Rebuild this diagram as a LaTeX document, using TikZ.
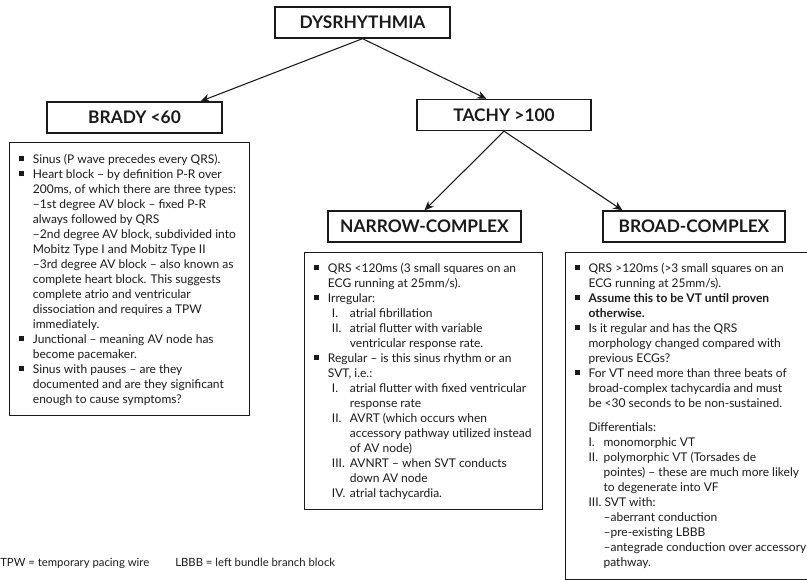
\documentclass[tikz,border=0pt]{standalone}
\usepackage{fontspec}
\setmainfont{Lato}
\usetikzlibrary{arrows.meta,calc}

\definecolor{ink}{HTML}{1A1A1A}

% horizontal offsets inside a text box, measured from its left border
\newlength\BulX \newlength\BulW \newlength\TxtX \newlength\RomX \newlength\RomW \newlength\RomT
\newsavebox\numbox
\newcommand\sqbullet{\rule[1.6pt]{4.3pt}{4.3pt}}
\newcommand\lstrut{\rule{0pt}{8pt}}
% numeral column: fixed width, widened when the numeral needs more room
\newcommand\numcol[1]{\sbox\numbox{#1\ }%
  \ifdim\wd\numbox<\RomW\makebox[\RomW][l]{#1}\else\usebox\numbox\fi}
% bullet line, continuation line, numbered line, numbered continuation
\newcommand\BL[1]{\par\noindent\lstrut\hspace*{\BulX}\makebox[\BulW][l]{\sqbullet}\mbox{#1}}
\newcommand\TL[1]{\par\noindent\lstrut\hspace*{\TxtX}\mbox{#1}}
\newcommand\RL[2]{\par\noindent\lstrut\hspace*{\RomX}\numcol{#1}\mbox{#2}}
\newcommand\RC[1]{\par\noindent\lstrut\hspace*{\RomT}\mbox{#1}}
\newcommand\margins[4]{%
  \setlength\BulX{6.75pt}\setlength\TxtX{#4}%
  \setlength\BulW{\TxtX}\addtolength\BulW{-\BulX}%
  \setlength\RomX{\TxtX}\addtolength\RomX{#1}%
  \setlength\RomW{#2}%
  \setlength\RomT{\RomX}\addtolength\RomT{\RomW}%
  \vspace*{#3}}

\tikzset{
  head/.style={draw=ink, line width=1pt, inner sep=0pt, minimum height=23.25pt,
    font=\fontsize{13}{15}\selectfont\bfseries, text=ink},
  txtbox/.style={draw=ink, line width=0.9pt, inner sep=0pt, anchor=north west,
    font=\fontsize{9}{11.25}\selectfont, text=ink},
  arr/.style={draw=ink, line width=0.8pt, -{Stealth[length=7pt,width=6pt]}},
  foot/.style={font=\fontsize{8.5}{10}\selectfont, text=ink, inner sep=0pt, anchor=base west}
}

\begin{document}
\begin{tikzpicture}[x=0.75pt,y=-0.75pt]
\useasboundingbox (0,0) rectangle (807,580);
\clip (0,0) rectangle (807,580);

% headings
\node[head, minimum width=131.25pt] (dys)    at (362.5,22.5) {DYSRHYTHMIA};
\node[head, minimum width=131.25pt] (brady)  at (134.5,117.5) {BRADY <60};
\node[head, minimum width=130.5pt]  (tachy)  at (504,115) {TACHY >100};
\node[head, minimum width=144.75pt] (narrow) at (424.5,226.5) {NARROW-COMPLEX};
\node[head, minimum width=136.5pt]  (broad)  at (694,226.5) {BROAD-COMPLEX};

% connectors
\draw[arr] (dys.south) -- ($(brady.north west)!0.874!(brady.north east)$);
\draw[arr] (dys.south) -- ($(tachy.north west)!0.40!(tachy.north east)$);
\draw[arr] (tachy.south) -- (narrow.north);
\draw[arr] (tachy.south) -- ($(broad.north west)!0.11!(broad.north east)$);

% bradycardia notes
\node[txtbox] (bradytxt) at (9,142) {\parbox[t][204.75pt][t]{180pt}{%
  \margins{0pt}{0pt}{7.75pt}{17.5pt}%
  \BL{Sinus (P wave precedes every QRS).}
  \BL{Heart block -- by definition P-R over}
  \TL{200ms, of which there are three types:}
  \TL{--1st degree AV block -- fixed P-R}
  \TL{always followed by QRS}
  \TL{--2nd degree AV block, subdivided into}
  \TL{Mobitz Type I and Mobitz Type II}
  \TL{--3rd degree AV block -- also known as}
  \TL{complete heart block. This suggests}
  \TL{complete atrio and ventricular}
  \TL{dissociation and requires a TPW}
  \TL{immediately.}
  \BL{Junctional -- meaning AV node has}
  \TL{become pacemaker.}
  \BL{Sinus with pauses -- are they}
  \TL{documented and are they significant}
  \TL{enough to cause symptoms?}\par}};

% narrow-complex notes
\node[txtbox] (narrowtxt) at (304,252) {\parbox[t][192.75pt][t]{178.5pt}{%
  \margins{3pt}{13.5pt}{7pt}{17.5pt}%
  \BL{QRS <120ms (3 small squares on an}
  \TL{ECG running at 25mm/s).}
  \BL{Irregular:}
  \RL{I.}{atrial fibrillation}
  \RL{II.}{atrial flutter with variable}
  \RC{ventricular response rate.}
  \BL{Regular -- is this sinus rhythm or an}
  \TL{SVT, i.e.:}
  \RL{I.}{atrial flutter with fixed ventricular}
  \RC{response rate}
  \RL{II.}{AVRT (which occurs when}
  \RC{accessory pathway utilized instead}
  \RC{of AV node)}
  \RL{III.}{AVNRT -- when SVT conducts}
  \RC{down AV node}
  \RL{IV.}{atrial tachycardia.}\par}};

% broad-complex notes
\node[txtbox] (broadtxt) at (565,252) {\parbox[t][245.25pt][t]{198.75pt}{%
  \margins{0pt}{11.25pt}{7pt}{17.25pt}%
  \BL{QRS >120ms (>3 small squares on an}
  \TL{ECG running at 25mm/s).}
  \BL{\bfseries Assume this to be VT until proven}
  \TL{\bfseries otherwise.}
  \BL{Is it regular and has the QRS}
  \TL{morphology changed compared with}
  \TL{previous ECGs?}
  \BL{For VT need more than three beats of}
  \TL{broad-complex tachycardia and must}
  \TL{be <30 seconds to be non-sustained.}
  \par\vspace{7pt}
  \TL{Differentials:}
  \RL{I.}{monomorphic VT}
  \RL{II.}{polymorphic VT (Torsades de}
  \RC{pointes) -- these are much more likely}
  \RC{to degenerate into VF}
  \RL{III.}{SVT with:}
  \RC{--aberrant conduction}
  \RC{--pre-existing LBBB}
  \RC{--antegrade conduction over accessory}
  \RC{pathway.}\par}};

% abbreviations
\node[foot] (tpw)  at (0,567)   {TPW = temporary pacing wire};
\node[foot] (lbbb) at (175,567) {LBBB = left bundle branch block};
\end{tikzpicture}
\end{document}
